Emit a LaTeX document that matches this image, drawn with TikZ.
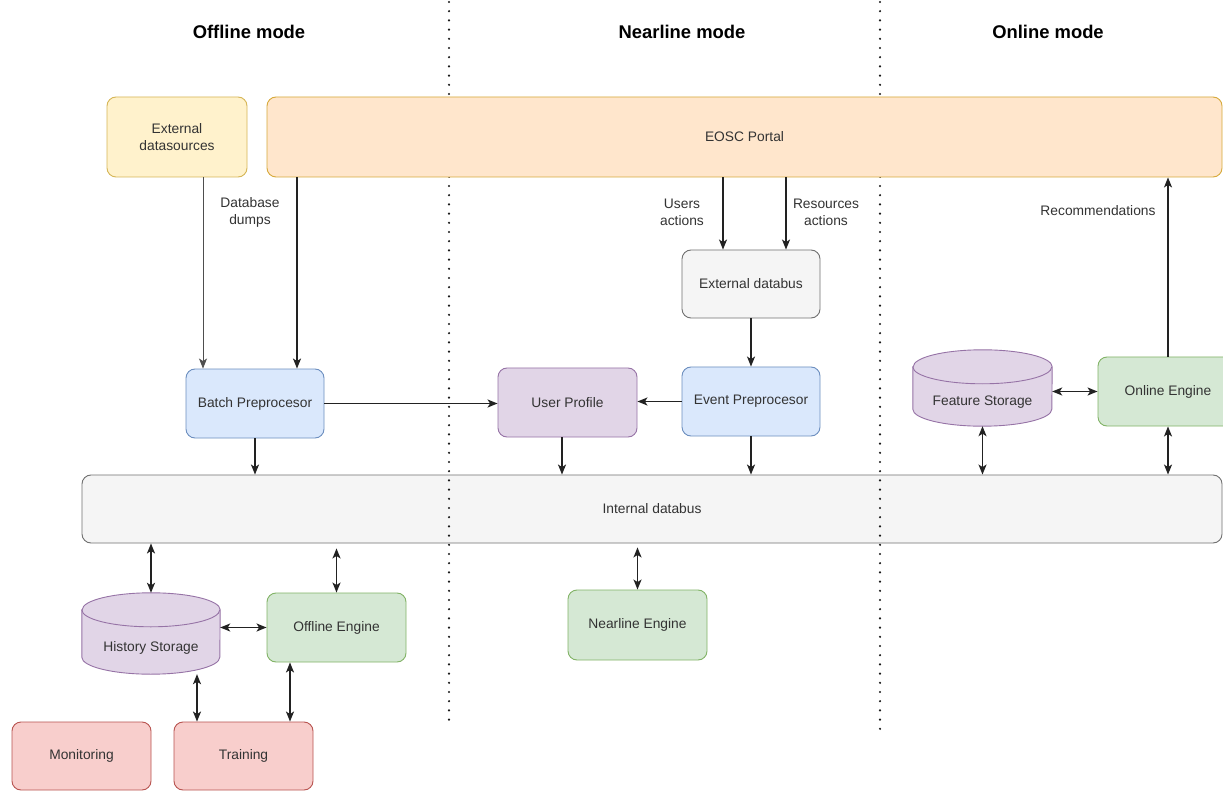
\documentclass[tikz,border=0pt]{standalone}
\usepackage{fontspec}
\setmainfont{Liberation Sans}
\usetikzlibrary{arrows.meta,calc}
\definecolor{yelF}{HTML}{FFF2CC}\definecolor{yelS}{HTML}{D6B656}
\definecolor{orF}{HTML}{FFE6CC}\definecolor{orS}{HTML}{D7A93A}
\definecolor{grF}{HTML}{F5F5F5}\definecolor{grS}{HTML}{707070}
\definecolor{blF}{HTML}{DAE8FC}\definecolor{blS}{HTML}{6C8EBF}
\definecolor{puF}{HTML}{E1D5E7}\definecolor{puS}{HTML}{9673A6}
\definecolor{gnF}{HTML}{D5E8D4}\definecolor{gnS}{HTML}{82B366}
\definecolor{rdF}{HTML}{F8CECC}\definecolor{rdS}{HTML}{B85450}
\definecolor{txtc}{HTML}{333333}
\definecolor{linec}{HTML}{222222}
\newcommand\diabody{\fontsize{13.8}{17}\selectfont}
\newcommand\diahead{\fontsize{18.4}{22}\selectfont\bfseries}
\newcommand\dbcyl[4]{% node, half width, ry, style
  \path[#4] ($(#1.north west)+(0,-#3)$) -- ($(#1.south west)+(0,#3)$)
    arc[start angle=180,end angle=360,x radius=#2pt,y radius=#3pt]
    -- ($(#1.north east)+(0,-#3)$)
    arc[start angle=0,end angle=180,x radius=#2pt,y radius=#3pt] -- cycle;
  \draw[#4,fill=none] ($(#1.north west)+(0,-#3)$)
    arc[start angle=180,end angle=360,x radius=#2pt,y radius=#3pt];}
\begin{document}
\begin{tikzpicture}[x=1pt,y=1pt,
  box/.style={draw, rounded corners=9pt, line width=0.9pt, inner sep=0pt,
    text=txtc, font=\diabody, align=center},
  yelbox/.style={box, fill=yelF, draw=yelS},
  orbox/.style={box, fill=orF, draw=orS},
  grbox/.style={box, fill=grF, draw=grS},
  blbox/.style={box, fill=blF, draw=blS},
  pubox/.style={box, fill=puF, draw=puS},
  gnbox/.style={box, fill=gnF, draw=gnS},
  rdbox/.style={box, fill=rdF, draw=rdS},
  cylbox/.style={inner sep=0pt, draw=none},
  cylstyle/.style={draw=puS, fill=puF, line width=0.9pt},
  txt/.style={text=txtc, font=\diabody, align=center, inner sep=0pt},
  head/.style={text=black, font=\diahead, inner sep=0pt},
  arr/.style={draw=linec, line width=1.3pt, -{Stealth[length=10pt,width=8pt,inset=2.5pt]}},
  thinarr/.style={draw=linec!80, line width=0.9pt, -{Stealth[length=10pt,width=8pt,inset=2.5pt]}},
  darr/.style={draw=linec, line width=1.3pt, {Stealth[length=10pt,width=8pt,inset=2.5pt]}-{Stealth[length=10pt,width=8pt,inset=2.5pt]}},
  divider/.style={draw=black!90, line width=2.4pt, line cap=round, dash pattern=on 0pt off 9.2pt}
]
\useasboundingbox[fill=white] (0,0) rectangle (1223,-791);

% headings
\node[head] (hoff) at (249,-32) {Offline mode};
\node[head] (hnear) at (682,-32) {Nearline mode};
\node[head] (honl) at (1048,-32) {Online mode};

% internal databus (under dividers)
\node[grbox, minimum width=1140pt, minimum height=68pt] (internal) at (652,-509) {Internal databus};

% dividers
\coordinate (d1t) at (449,-2); \coordinate (d1b) at (449,-720);
\coordinate (d2t) at (880,-2); \coordinate (d2b) at (880,-730);
\draw[divider] (d1t) -- (d1b);
\draw[divider] (d2t) -- (d2b);

% top row
\node[yelbox, minimum width=140pt, minimum height=80pt] (extsrc) at (177,-137) {External\\datasources};
\node[orbox, minimum width=955pt, minimum height=80pt] (eosc) at (744.5,-137) {EOSC Portal};

% middle
\node[grbox, minimum width=138pt, minimum height=68pt] (extbus) at (751,-284) {External databus};
\node[blbox, minimum width=138pt, minimum height=69pt] (batch) at (255,-403.5) {Batch Preprocesor};
\node[pubox, minimum width=139pt, minimum height=69pt] (profile) at (567.5,-402.5) {User Profile};
\node[blbox, minimum width=138pt, minimum height=69pt] (event) at (751,-401.5) {Event Preprocesor};
\node[cylbox, minimum width=139pt, minimum height=76pt] (feature) at (982.5,-388) {};
\dbcyl{feature}{69.5}{17}{cylstyle}
\node[txt] (featuretxt) at ([yshift=-14pt]feature.center) {Feature Storage};
\node[gnbox, minimum width=140pt, minimum height=69pt] (online) at (1168,-391.5) {Online Engine};

% bottom
\node[cylbox, minimum width=138pt, minimum height=81pt] (hist) at (151,-633.5) {};
\dbcyl{hist}{69}{17}{cylstyle}
\node[txt] (histtxt) at ([yshift=-14.5pt]hist.center) {History Storage};
\node[gnbox, minimum width=139pt, minimum height=69pt] (offline) at (336.5,-627.5) {Offline Engine};
\node[gnbox, minimum width=139pt, minimum height=70pt] (nearline) at (637.5,-625) {Nearline Engine};
\node[rdbox, minimum width=139pt, minimum height=68pt] (monitor) at (81.5,-756) {Monitoring};
\node[rdbox, minimum width=139pt, minimum height=68pt] (training) at (243.5,-756) {Training};

% connectors top
\draw[thinarr] ([xshift=26pt]extsrc.south) -- ([xshift=-52pt]batch.north);
\draw[arr] ([xshift=-447.5pt]eosc.south) -- ([xshift=42pt]batch.north);
\node[txt] (lbldump) at (250,-212) {Database\\dumps};
\draw[arr] ([xshift=-21.5pt]eosc.south) -- ([xshift=-28pt]extbus.north);
\node[txt] (lblusers) at (682,-212) {Users\\actions};
\draw[arr] ([xshift=41.5pt]eosc.south) -- ([xshift=35pt]extbus.north);
\node[txt] (lblres) at (826,-212) {Resources\\actions};
\draw[arr] (online.north) -- (online.north |- eosc.south);
\node[txt] (lblrec) at (1098,-211) {Recommendations};

% middle connectors
\draw[arr] (extbus.south) -- (event.north);
\draw[arr] (batch.east) -- (batch.east -| profile.west);
\draw[arr] (event.west) -- (event.west -| profile.east);
\draw[arr] (batch.south) -- (batch.south |- internal.north);
\draw[arr] ([xshift=-5.5pt]profile.south) -- ([xshift=-5.5pt]profile.south |- internal.north);
\draw[arr] (event.south) -- (event.south |- internal.north);
\draw[darr] (feature.south) -- (feature.south |- internal.north);
\draw[darr] (online.south) -- (online.south |- internal.north);
\draw[darr] (feature.east |- online.west) -- (online.west);

% bottom connectors
\draw[darr] (hist.north |- internal.south) -- (hist.north);
\draw[darr] ([yshift=-5pt]offline.north |- internal.south) -- (offline.north);
\draw[darr] ([yshift=-4pt]nearline.north |- internal.south) -- (nearline.north);
\draw[darr] (hist.east |- offline.west) -- (offline.west);
\draw[darr] ([xshift=-46.5pt]training.north |- hist.south) -- ([xshift=-46.5pt]training.north);
\draw[darr] ([xshift=46.5pt]training.north |- offline.south) -- ([xshift=46.5pt]training.north);
\end{tikzpicture}
\end{document}
